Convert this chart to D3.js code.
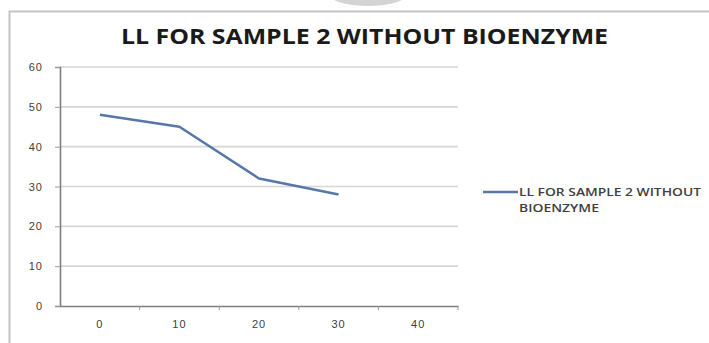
<!DOCTYPE html>
<html>
<head>
<meta charset="utf-8">
<script src="https://cdn.jsdelivr.net/npm/d3@7"></script>
<style>
  body { margin: 0; background: #fff; }
  svg { display: block; font-family: "Open Sans", "Liberation Sans", sans-serif; }
</style>
</head>
<body>
<svg></svg>
<script>
const CATEGORIES = ["0", "10", "20", "30", "40"];
const VALUES = [48, 45, 32, 28];
const Y_TICKS = [0, 10, 20, 30, 40, 50, 60];
const TITLE = "LL FOR SAMPLE 2 WITHOUT BIOENZYME";
const LEGEND_LINES = ["LL FOR SAMPLE 2 WITHOUT", "BIOENZYME"];

const WIDTH = 709;
const HEIGHT = 343;
const PLOT = {left: 60, right: 458, top: 67, bottom: 306};

const svg = d3.select('svg')
  .attr('width', WIDTH)
  .attr('height', HEIGHT);

// scanner shadow + page frame
svg.append('ellipse')
  .attr('cx', 368).attr('cy', -6)
  .attr('rx', 39).attr('ry', 12)
  .attr('fill', '#d4d4d4');

svg.append('path')
  .attr('d', `M9.5,${HEIGHT} V11.5 H${WIDTH}`)
  .attr('fill', 'none')
  .attr('stroke', '#c4c4c4')
  .attr('stroke-width', 2);

// scales
const xScale = d3.scaleBand()
  .domain(CATEGORIES)
  .range([PLOT.left, PLOT.right]);

const yScale = d3.scaleLinear()
  .domain([0, 60])
  .range([PLOT.bottom, PLOT.top]);

// gridlines
svg.append('g')
  .selectAll('line')
  .data(Y_TICKS.filter(d => d > 0))
  .enter()
  .append('line')
  .attr('x1', PLOT.left)
  .attr('x2', PLOT.right)
  .attr('y1', d => yScale(d))
  .attr('y2', d => yScale(d))
  .attr('stroke', '#d6d6d6')
  .attr('stroke-width', 1.6);

// y axis
const yAxis = svg.append('g')
  .attr('transform', `translate(${PLOT.left},0)`)
  .call(d3.axisLeft(yScale).tickValues(Y_TICKS).tickSize(5).tickPadding(12));
yAxis.select('.domain').attr('stroke', '#7f7f7f').attr('stroke-width', 1.6);
yAxis.selectAll('.tick line').attr('stroke', '#9a9a9a');
yAxis.selectAll('.tick text')
  .attr('fill', '#404040')
  .style('font-size', '11px')
  .style('letter-spacing', '1px');

// x axis (ticks between categories)
const xAxis = svg.append('g')
  .attr('transform', `translate(0,${PLOT.bottom})`)
  .call(d3.axisBottom(xScale).tickSize(0).tickPadding(14));
xAxis.select('.domain').attr('stroke', '#7f7f7f').attr('stroke-width', 1.6);
xAxis.selectAll('.tick text')
  .attr('fill', '#404040')
  .style('font-size', '11px')
  .style('letter-spacing', '1px');

xAxis.selectAll('.sep')
  .data(CATEGORIES)
  .enter()
  .append('line')
  .attr('x1', d => xScale(d) + xScale.bandwidth())
  .attr('x2', d => xScale(d) + xScale.bandwidth())
  .attr('y1', 0)
  .attr('y2', 4)
  .attr('stroke', '#9a9a9a');

// line
const line = d3.line()
  .x((d, i) => xScale(CATEGORIES[i]) + xScale.bandwidth() / 2)
  .y(d => yScale(d));

svg.append('path')
  .datum(VALUES)
  .attr('d', line)
  .attr('fill', 'none')
  .attr('stroke', '#5578a8')
  .attr('stroke-width', 2.5)
  .attr('stroke-linejoin', 'round');

// title
svg.append('text')
  .text(TITLE)
  .attr('x', 121)
  .attr('y', 44)
  .attr('textLength', 487)
  .attr('lengthAdjust', 'spacingAndGlyphs')
  .attr('fill', '#1a1a1a')
  .style('font-size', '22px')
  .style('font-weight', 'bold');

// legend
svg.append('line')
  .attr('x1', 483).attr('x2', 518)
  .attr('y1', 192).attr('y2', 192)
  .attr('stroke', '#5578a8')
  .attr('stroke-width', 2.5);

svg.append('g')
  .selectAll('text')
  .data(LEGEND_LINES)
  .enter()
  .append('text')
  .text(d => d)
  .attr('x', 519)
  .attr('y', (d, i) => 196 + i * 16)
  .attr('textLength', (d, i) => i === 0 ? 182 : 80)
  .attr('lengthAdjust', 'spacingAndGlyphs')
  .attr('fill', '#404040')
  .style('font-size', '10.5px')
  .style('font-weight', '600');
</script>
</body>
</html>
